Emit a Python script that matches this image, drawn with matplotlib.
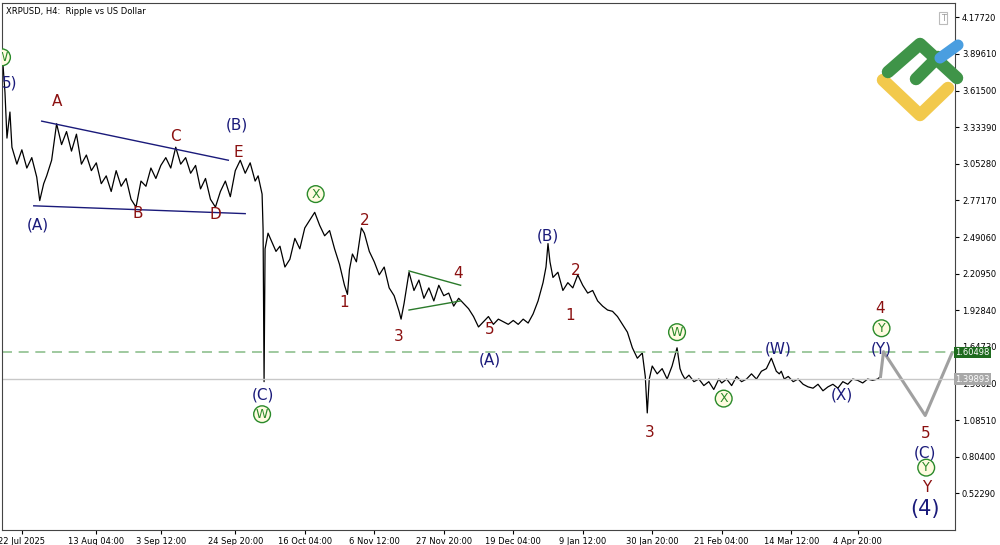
import matplotlib
matplotlib.use("Agg")
import matplotlib.pyplot as plt

# price path (bar position, price)
bars = [0, 3, 5, 8, 10, 15, 20, 25, 30, 35, 38, 42, 45, 50, 55, 60, 65, 70, 75, 80, 85, 90, 95, 100,
        105, 110, 115, 120, 125, 130, 135, 140, 145, 150, 155, 160, 165, 170, 175, 180, 185, 190,
        195, 200, 205, 210, 215, 220, 225, 230, 235, 240, 245, 250, 255, 258, 262, 263, 264, 265,
        268, 272, 276, 280, 285, 290, 295, 300, 305, 310, 315, 320, 325, 330, 335, 340, 345, 348,
        350, 353, 357, 362, 365, 370, 375, 380, 385, 390, 395, 400, 402, 405, 410, 415, 420, 425,
        430, 435, 440, 445, 450, 455, 460, 465, 470, 475, 480, 485, 490, 495, 500, 505, 510, 515,
        520, 525, 530, 535, 540, 545, 548, 550, 552, 555, 560, 565, 570, 575, 580, 585, 590, 595,
        600, 605, 610, 615, 620, 625, 630, 635, 640, 645, 648, 650, 652, 655, 660, 665, 670, 675,
        680, 683, 685, 688, 692, 697, 702, 707, 712, 717, 722, 725, 730, 735, 740, 745, 750, 755,
        760, 765, 770, 775, 780, 783, 785, 788, 792, 797, 802, 807, 812, 817, 822, 827, 832, 837,
        842, 847, 852, 857, 862, 867, 872, 877, 882, 885]
prices = [3.92, 3.60, 3.25, 3.45, 3.18, 3.05, 3.16, 3.02, 3.10, 2.95, 2.77, 2.90, 2.96, 3.08, 3.36,
          3.20, 3.30, 3.15, 3.28, 3.05, 3.12, 3.00, 3.06, 2.90, 2.96, 2.84, 3.00, 2.88, 2.94, 2.78,
          2.72, 2.92, 2.88, 3.02, 2.94, 3.04, 3.10, 3.02, 3.18, 3.05, 3.10, 2.98, 3.04, 2.86, 2.94,
          2.78, 2.72, 2.84, 2.92, 2.80, 3.00, 3.08, 2.98, 3.06, 2.92, 2.96, 2.82, 2.55, 1.38, 2.40,
          2.52, 2.45, 2.38, 2.42, 2.26, 2.32, 2.48, 2.40, 2.56, 2.62, 2.68, 2.58, 2.50, 2.54, 2.40,
          2.28, 2.12, 2.05, 2.24, 2.36, 2.30, 2.56, 2.52, 2.38, 2.30, 2.20, 2.26, 2.10, 2.04, 1.92,
          1.86, 1.98, 2.22, 2.08, 2.16, 2.02, 2.10, 2.00, 2.12, 2.04, 2.06, 1.96, 2.02, 1.98, 1.94,
          1.88, 1.80, 1.84, 1.88, 1.82, 1.86, 1.84, 1.82, 1.85, 1.82, 1.86, 1.83, 1.90, 2.00, 2.14,
          2.26, 2.44, 2.30, 2.18, 2.22, 2.08, 2.14, 2.10, 2.20, 2.12, 2.06, 2.08, 2.00, 1.96, 1.93,
          1.92, 1.88, 1.82, 1.76, 1.64, 1.56, 1.60, 1.42, 1.14, 1.40, 1.50, 1.44, 1.48, 1.40, 1.50,
          1.64, 1.48, 1.44, 1.40, 1.43, 1.38, 1.40, 1.35, 1.38, 1.32, 1.40, 1.37, 1.40, 1.35, 1.42,
          1.38, 1.40, 1.44, 1.40, 1.46, 1.48, 1.56, 1.46, 1.44, 1.46, 1.40, 1.42, 1.38, 1.40, 1.36,
          1.34, 1.33, 1.36, 1.31, 1.34, 1.36, 1.33, 1.38, 1.36, 1.40, 1.39, 1.37, 1.40, 1.39, 1.40,
          1.42]

proj_bars = [885, 888, 930, 957]
proj_prices = [1.42, 1.61, 1.12, 1.60]

xtick_pos = [20, 95, 160, 235, 305, 375, 445, 515, 585, 655, 725, 795, 862]
xtick_labels = ["22 Jul 2025", "13 Aug 04:00", "3 Sep 12:00", "24 Sep 20:00", "16 Oct 04:00",
                "6 Nov 12:00", "27 Nov 20:00", "19 Dec 04:00", "9 Jan 12:00", "30 Jan 20:00",
                "21 Feb 04:00", "14 Mar 12:00", "4 Apr 20:00"]
ytick_vals = [4.17720, 3.89610, 3.61500, 3.33390, 3.05280, 2.77170, 2.49060, 2.20950,
              1.92840, 1.64730, 1.36620, 1.08510, 0.80400, 0.52290]

target = 1.60498
last_price = 1.39893

fig = plt.figure(figsize=(10, 5.45), dpi=100)
ax = fig.add_axes([0.002, 0.027, 0.953, 0.967])
ax.plot(bars, prices, color="black", lw=0.9)
ax.plot(proj_bars, proj_prices, color="#a0a0a0", lw=2.2)
ax.axhline(target, color="#8fc08f", ls=(0, (6, 4)), lw=1.2)
ax.axhline(last_price, color="#c8c8c8", lw=1)

# triangle lines
ax.plot([40, 228], [3.38, 3.08], color="#1a1a7a", lw=1)
ax.plot([32, 245], [2.73, 2.67], color="#1a1a7a", lw=1)
ax.plot([410, 462], [2.23, 2.12], color="#2a7a2a", lw=1)
ax.plot([410, 462], [1.93, 2.00], color="#2a7a2a", lw=1)

ax.set_xlim(0, 960)
ax.set_ylim(0.239, 4.285)
ax.yaxis.tick_right()
ax.set_yticks(ytick_vals)
ax.set_yticklabels([f"{v:.5f}" for v in ytick_vals], fontsize=6)
ax.set_xticks(xtick_pos)
ax.set_xticklabels(xtick_labels, fontsize=6)
ax.tick_params(length=3, pad=2)
for s in ax.spines.values():
    s.set_color("#444444")

red, blue, green = "#8b1010", "#1a1a7a", "#2a8a2a"
labels = [
    (55, 3.53, "A", red), (137, 2.67, "B", red), (175, 3.26, "C", red), (215, 2.66, "D", red),
    (238, 3.14, "E", red), (237, 3.35, "(B)", blue), (36, 2.58, "(A)", blue), (263, 1.28, "(C)", blue),
    (345, 1.99, "1", red), (365, 2.62, "2", red), (400, 1.73, "3", red), (459, 2.21, "4", red),
    (491, 1.78, "5", red), (491, 1.55, "(A)", blue), (550, 2.50, "(B)", blue), (572, 1.89, "1", red),
    (578, 2.23, "2", red), (652, 0.99, "3", red), (782, 1.63, "(W)", blue), (846, 1.28, "(X)", blue),
    (886, 1.63, "(Y)", blue), (885, 1.94, "4", red), (930, 0.98, "5", red), (930, 0.83, "(C)", blue),
    (931, 0.57, "Y", red),
]
for x, y, t, c in labels:
    ax.text(x, y, t, color=c, fontsize=11, ha="center", va="center")
ax.text(930, 0.40, "(4)", color=blue, fontsize=15, ha="center", va="center")
ax.text(0, 3.67, "5)", color=blue, fontsize=11, ha="left", va="center")

circles = [(316, 2.82, "X"), (262, 1.13, "W"), (680, 1.76, "W"),
           (727, 1.25, "X"), (886, 1.79, "Y"), (931, 0.72, "Y")]
for x, y, t in circles:
    ax.text(x, y, t, color=green, fontsize=9, ha="center", va="center",
            bbox=dict(boxstyle="circle,pad=0.15", fc="#fffbe0", ec=green, lw=1))
ax.text(0, 3.87, "W", color=green, fontsize=9, ha="center", va="center", clip_on=True,
        bbox=dict(boxstyle="circle,pad=0.15", fc="#fffbe0", ec=green, lw=1))

ax.text(4, 4.22, "XRPUSD, H4:  Ripple vs US Dollar", fontsize=6, va="center")
ax.text(948, 4.17, "T", fontsize=6, color="#999999", ha="center", va="center",
        bbox=dict(boxstyle="square,pad=0.2", fc="white", ec="#bbbbbb", lw=0.8))

# logo, in figure pixels
lax = fig.add_axes([0, 0, 1, 1])
lax.set_xlim(0, 1000)
lax.set_ylim(545, 0)
lax.axis("off")
lax.patch.set_alpha(0)
lax.plot([883, 920, 948], [80, 115, 88], color="#f2c94c", lw=9, solid_capstyle="round")
lax.plot([888, 920, 957], [72, 44, 78], color="#3f9448", lw=9, solid_capstyle="round")
lax.plot([916, 938], [79, 57], color="#3f9448", lw=9, solid_capstyle="round")
lax.plot([940, 958], [58, 45], color="#4a9ee0", lw=8, solid_capstyle="round")

# price tags
ax.text(960.5, target, "1.60498", fontsize=6, color="white", va="center", ha="left",
        clip_on=False, bbox=dict(boxstyle="square,pad=0.15", fc="#1f6b1f", ec="none"))
ax.text(960.5, last_price, "1.39893", fontsize=6, color="white", va="center", ha="left",
        clip_on=False, bbox=dict(boxstyle="square,pad=0.15", fc="#a8a8a8", ec="none"))

fig.savefig("out.png", dpi=100)
